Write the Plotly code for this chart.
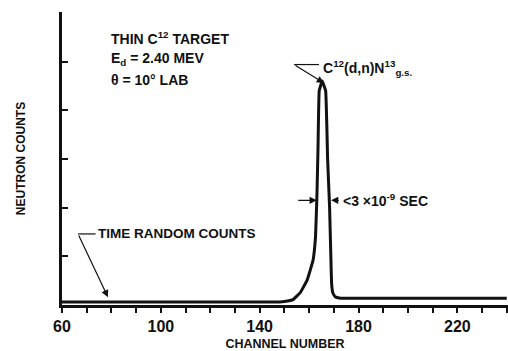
import plotly.graph_objects as go

# Data
channel = [60, 100, 140, 148, 150, 153.5, 156.5, 159.2, 161.6, 162.6, 163.2, 163.6, 164.1,
           165.3, 166.7, 167.5, 168.3, 168.8, 169.1, 169.6, 170.5, 173, 200, 240]
counts = [0.06, 0.06, 0.06, 0.06, 0.07, 0.11, 0.26, 0.51, 0.92, 1.4, 2.3, 3.2, 4.4,
          4.6, 4.4, 3.0, 2.0, 1.0, 0.45, 0.25, 0.17, 0.14, 0.14, 0.14]

x_tickvals = [60, 100, 140, 180, 220]
x_ticktext = ["60", "100", "140", "180", "220"]
y_tickvals = [1, 2, 3, 4, 5, 6]

FONT = "Liberation Sans"
BLACK = "#111111"

fig = go.Figure()
fig.add_trace(go.Scatter(x=channel, y=counts, mode="lines",
                         line=dict(color=BLACK, width=3, shape="spline", smoothing=0.25),
                         hoverinfo="skip", showlegend=False))

def txt(x, y, s, size=13, xanchor="left"):
    fig.add_annotation(x=x, y=y, xref="x", yref="y", text=s, showarrow=False,
                       xanchor=xanchor, yanchor="middle",
                       font=dict(family=FONT, size=size, color=BLACK, weight="bold"))

def arrow(x, y, ax, ay):
    fig.add_annotation(x=x, y=y, ax=ax, ay=ay, xref="x", yref="y", axref="x", ayref="y",
                       text="", showarrow=True, arrowhead=2, arrowsize=1.2,
                       arrowwidth=1.2, arrowcolor=BLACK)

def seg(x0, y0, x1, y1):
    fig.add_shape(type="line", x0=x0, y0=y0, x1=x1, y1=y1, xref="x", yref="y",
                  line=dict(color=BLACK, width=1.2))

txt(79.0, 5.49, "THIN C<sup>12</sup> TARGET", 14)
txt(79.0, 5.06, "E<sub>d</sub> = 2.40 MEV", 14)
txt(79.0, 4.63, "θ = 10° LAB", 14)

txt(164.8, 4.87, "C<sup>12</sup>(d,n)N<sup>13</sup><sub>g.s.</sub>", 14)
seg(153.9, 4.94, 164.0, 4.94)
arrow(166.0, 4.56, 153.9, 4.94)

txt(172.8, 2.15, "&lt;3 ×10<sup>-9</sup> SEC", 14)
arrow(163.1, 2.15, 155.0, 2.15)
arrow(168.9, 2.15, 172.6, 2.15)

txt(73.8, 1.47, "TIME RANDOM COUNTS", 13.5)
seg(66.5, 1.46, 73.6, 1.46)
arrow(78.6, 0.16, 66.5, 1.46)

fig.update_layout(
    width=508, height=351,
    margin=dict(l=62, r=0, t=12, b=46),
    paper_bgcolor="white", plot_bgcolor="white",
    font=dict(family=FONT, color=BLACK, weight="bold"),
    xaxis=dict(range=[60, 240.5], tickvals=x_tickvals, ticktext=x_ticktext,
               ticks="outside", ticklen=5, tickwidth=1.5, tickcolor=BLACK,
               minor=dict(tick0=60, dtick=10, ticks="outside", ticklen=5,
                          tickwidth=1.5, tickcolor=BLACK, showgrid=False),
               showline=True, linecolor=BLACK, linewidth=2.5, showgrid=False, zeroline=False,
               tickfont=dict(family=FONT, size=16, color=BLACK, weight="bold"),
               title=dict(text="CHANNEL NUMBER", standoff=8,
                          font=dict(family=FONT, size=12.5, color=BLACK, weight="bold"))),
    yaxis=dict(range=[0, 6.02], tickvals=y_tickvals, showticklabels=False,
               ticks="inside", ticklen=6, tickwidth=1.5, tickcolor=BLACK,
               showline=True, linecolor=BLACK, linewidth=2.5, showgrid=False, zeroline=False,
               title=dict(text="NEUTRON COUNTS", standoff=32,
                          font=dict(family=FONT, size=12, color=BLACK, weight="bold"))),
)

fig.write_html("out.html")
